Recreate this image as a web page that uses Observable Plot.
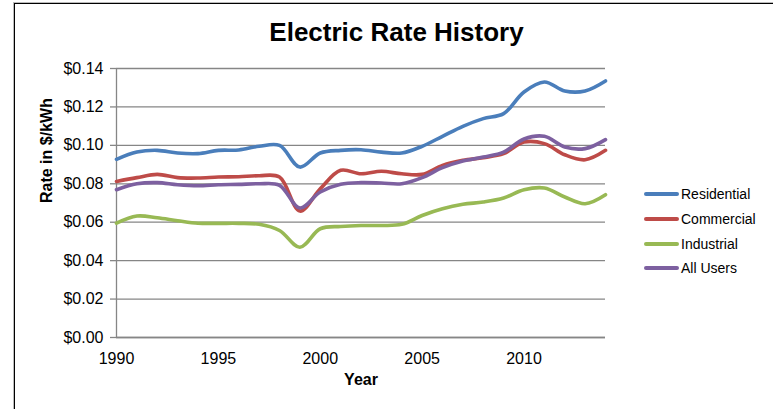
<!DOCTYPE html>
<html>
<head>
<meta charset="utf-8">
<script src="https://cdn.jsdelivr.net/npm/d3@7"></script>
<script src="https://cdn.jsdelivr.net/npm/@observablehq/plot@0.6"></script>
<style>
  html, body { margin: 0; padding: 0; background: #fff; }
  body { width: 773px; height: 409px; overflow: hidden; position: relative; font-family: "Liberation Sans", Arial, sans-serif; }
  #frame { position: absolute; left: 14px; top: 3px; width: 800px; height: 450px; border: 1.5px solid #000; box-shadow: -1px -1px 0 #bbb; box-sizing: border-box; }
  #chart { position: absolute; left: 0; top: 0; }
  #title { position: absolute; left: 0; width: 793px; top: 19px; text-align: center; font-weight: bold; font-size: 26px; line-height: 26px; color: #000; }
  #legend { position: absolute; left: 644px; top: 182px; }
  .item { position: relative; height: 24.7px; display: flex; align-items: center; }
  .swatch { width: 35px; height: 4px; border-radius: 2px; margin-right: 2px; }
  .lab { font-size: 14px; color: #000; }
</style>
</head>
<body>
<div id="frame"></div>
<div id="chart"></div>
<div id="title">Electric Rate History</div>
<div id="legend"></div>
<script>
const years = [1990,1991,1992,1993,1994,1995,1996,1997,1998,1999,2000,2001,2002,2003,2004,2005,2006,2007,2008,2009,2010,2011,2012,2013,2014];
const residential = [0.0927,0.0965,0.0974,0.0960,0.0957,0.0974,0.0976,0.0995,0.1000,0.0887,0.0960,0.0974,0.0977,0.0965,0.0960,0.0995,0.1047,0.1099,0.1139,0.1165,0.1278,0.1330,0.1283,0.1283,0.1335];
const commercial = [0.0812,0.0832,0.0849,0.0832,0.0830,0.0835,0.0837,0.0842,0.0835,0.0658,0.0774,0.0870,0.0852,0.0865,0.0852,0.0849,0.0896,0.0922,0.0936,0.0957,0.1017,0.1009,0.0951,0.0925,0.0974];
const industrial = [0.0595,0.0632,0.0623,0.0608,0.0595,0.0594,0.0594,0.0589,0.0557,0.0470,0.0566,0.0578,0.0583,0.0583,0.0589,0.0635,0.0670,0.0693,0.0705,0.0726,0.0769,0.0778,0.0731,0.0696,0.0743];
const allUsers = [0.0769,0.0800,0.0806,0.0795,0.0790,0.0795,0.0797,0.0800,0.0792,0.0674,0.0757,0.0797,0.0806,0.0804,0.0800,0.0832,0.0884,0.0918,0.0939,0.0965,0.1033,0.1047,0.0991,0.0983,0.1030];
const seriesNames = ["Residential","Commercial","Industrial","All Users"];
const seriesColors = ["#4A7EBB","#BE4B48","#98B954","#7D60A0"];
const xTicks = [1990,1995,2000,2005,2010];
const yTicks = [0,0.02,0.04,0.06,0.08,0.10,0.12,0.14];

const seriesValues = [residential, commercial, industrial, allUsers];
const data = [];
seriesNames.forEach((name, i) => {
  years.forEach((yr, j) => data.push({series: name, year: yr, value: seriesValues[i][j]}));
});

const grid = "#868686";
const chart = Plot.plot({
  width: 773,
  height: 409,
  marginLeft: 116,
  marginRight: 168,
  marginTop: 68,
  marginBottom: 72,
  style: {fontFamily: "Liberation Sans, Arial, sans-serif", background: "transparent", color: "#000"},
  x: {domain: [1990, 2014]},
  y: {domain: [0, 0.14]},
  color: {domain: seriesNames, range: seriesColors},
  marks: [
    Plot.gridY(yTicks, {stroke: grid, strokeOpacity: 1, strokeWidth: 1.3}),
    Plot.ruleX([1990], {stroke: grid, strokeWidth: 1.3}),
    Plot.ruleY([0], {stroke: grid, strokeWidth: 1.3}),
    Plot.axisY(yTicks, {tickFormat: d => "$" + d.toFixed(2), tickSize: 6, tickPadding: 7, stroke: grid, strokeWidth: 1.3, label: null, fontSize: 16}),
    Plot.axisX(xTicks, {tickFormat: d => String(d), tickSize: 0, tickPadding: 15, label: null, fontSize: 16}),
    Plot.line(data, {x: "year", y: "value", z: "series", stroke: "series", curve: "catmull-rom", strokeWidth: 3.6, strokeLinecap: "round", strokeLinejoin: "round"}),
    Plot.text(["Rate in $/kWh"], {text: d => d, frameAnchor: "left", dx: -70, rotate: -90, fontWeight: "bold", fontSize: 16}),
    Plot.text(["Year"], {text: d => d, frameAnchor: "bottom", dy: 47, fontWeight: "bold", fontSize: 16})
  ]
});
document.getElementById("chart").appendChild(chart);

const legend = document.getElementById("legend");
seriesNames.forEach((name, i) => {
  const item = document.createElement("div");
  item.className = "item";
  const sw = document.createElement("div");
  sw.className = "swatch";
  sw.style.background = seriesColors[i];
  const lab = document.createElement("span");
  lab.className = "lab";
  lab.textContent = name;
  item.appendChild(sw);
  item.appendChild(lab);
  legend.appendChild(item);
});
</script>
</body>
</html>
